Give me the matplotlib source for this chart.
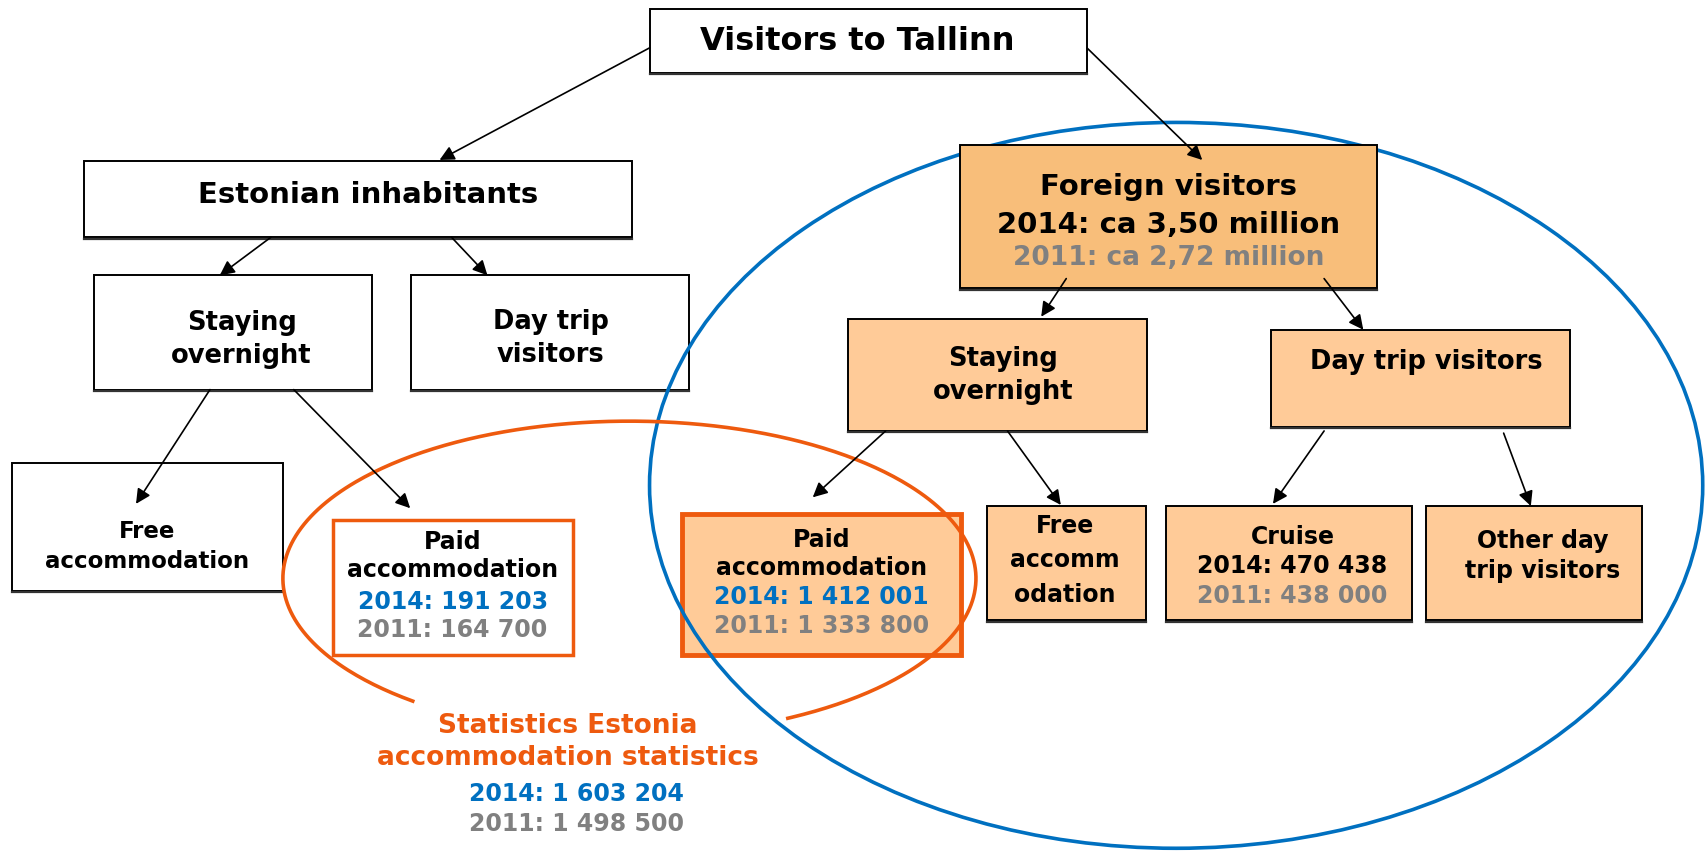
import matplotlib
matplotlib.use("Agg")
import matplotlib.pyplot as plt
from matplotlib.patches import Rectangle, Ellipse
import numpy as np

# ---- data (text content of the diagram) ----
years = ["2014", "2011"]
title = "Visitors to Tallinn"
estonian = "Estonian inhabitants"
foreign = "Foreign visitors"
foreign_total = ["ca 3,50 million", "ca 2,72 million"]
paid_estonian = ["191 203", "164 700"]
paid_foreign = ["1 412 001", "1 333 800"]
cruise = ["470 438", "438 000"]
stats_total = ["1 603 204", "1 498 500"]
stats_label = "Statistics Estonia\naccommodation statistics"

BLUE = "#0070C0"
GRAY = "#808080"
ORANGE = "#EE5A0E"
FILL_DARK = "#F8BE7A"
FILL = "#FFCB98"

plt.rcParams["font.family"] = ["DejaVu Sans"]

fig = plt.figure(figsize=(17.06, 8.51), dpi=100)
ax = fig.add_axes([0, 0, 1, 1])
ax.set_xlim(0, 1568)
ax.set_ylim(782, 0)
ax.axis("off")


def box(x0, y0, x1, y1, fc="white", ec="black", lw=1.4, z=2):
    ax.add_patch(Rectangle((x0, y0), x1 - x0, y1 - y0, facecolor=fc,
                           edgecolor=ec, linewidth=lw, zorder=z))
    # subtle shadow on bottom edge
    if ec == "black":
        ax.plot([x0, x1], [y1 + 1.2, y1 + 1.2], color="#333333", lw=1.6, zorder=z)


def txt(x, y, s, size=17, color="black", z=7, ls=1.2):
    ax.text(x, y, s, ha="center", va="center", fontsize=size, color=color,
            fontweight="bold", zorder=z, linespacing=ls)


def arrow(x0, y0, x1, y1):
    ax.annotate("", xy=(x1, y1), xytext=(x0, y0),
                arrowprops=dict(arrowstyle="-|>", mutation_scale=22, lw=1.2,
                                color="black", shrinkA=0, shrinkB=0), zorder=6)


# ---- boxes ----
box(597, 8, 999, 67)
box(77, 148, 581, 218)
box(86, 253, 342, 358)
box(378, 253, 633, 358)
box(11, 425, 260, 543)
box(306, 478, 527, 602, ec=ORANGE, lw=2.5)
box(882, 133, 1266, 265, fc=FILL_DARK, z=5)
box(779, 293, 1054, 396, fc=FILL)
box(1168, 303, 1443, 392, fc=FILL)
box(627, 472, 883, 602, fc=FILL, ec=ORANGE, lw=3.5)
box(907, 465, 1053, 570, fc=FILL)
box(1072, 465, 1298, 570, fc=FILL)
box(1311, 465, 1509, 570, fc=FILL)

# ---- ellipses ----
ax.add_patch(Ellipse((1081, 446), 968, 667, fill=False, edgecolor=BLUE,
                     linewidth=2.6, zorder=3))
cx, cy, a, b = 578.5, 531.5, 318.5, 144.5
t = np.radians(np.linspace(128.7, 422.8, 400))
ax.plot(cx + a * np.cos(t), cy + b * np.sin(t), color=ORANGE, lw=2.6, zorder=3)

# ---- arrows ----
arrow(597, 44, 404, 147)
arrow(999, 44, 1105, 147)
arrow(249, 218, 202, 253)
arrow(415, 218, 448, 253)
arrow(193, 358, 125, 463)
arrow(270, 358, 377, 467)
arrow(980, 256, 957, 291)
arrow(1217, 256, 1253, 303)
arrow(814, 396, 747, 457)
arrow(926, 396, 975, 464)
arrow(1217, 396, 1170, 463)
arrow(1382, 398, 1407, 465)

# ---- texts ----
txt(788, 38, title, size=23)
txt(338, 179, estonian, size=21)
txt(222, 312, "Staying\novernight", size=18.5, ls=1.35)
txt(506, 311, "Day trip\nvisitors", size=18.5, ls=1.35)
txt(135, 502, "Free\naccommodation", size=16.5, ls=1.4)

# paid estonian
txt(416, 511, "Paid\naccommodation", size=17)
txt(416, 553, f"{years[0]}: {paid_estonian[0]}", size=17, color=BLUE)
txt(416, 579, f"{years[1]}: {paid_estonian[1]}", size=17, color=GRAY)

# foreign
txt(1074, 172, foreign, size=21)
txt(1074, 207, f"{years[0]}: {foreign_total[0]}", size=21)
txt(1074, 237, f"{years[1]}: {foreign_total[1]}", size=19, color=GRAY)

txt(922, 345, "Staying\novernight", size=18.5, ls=1.35)
txt(1311, 333, "Day trip visitors", size=18.5)

# paid foreign
txt(755, 509, "Paid\naccommodation", size=17)
txt(755, 549, f"{years[0]}: {paid_foreign[0]}", size=17, color=BLUE)
txt(755, 575, f"{years[1]}: {paid_foreign[1]}", size=17, color=GRAY)

txt(979, 515, "Free\naccomm\nodation", size=17, ls=1.55)

txt(1188, 493, "Cruise", size=17)
txt(1188, 520, f"{years[0]}: {cruise[0]}", size=17)
txt(1188, 548, f"{years[1]}: {cruise[1]}", size=17, color=GRAY)

txt(1418, 511, "Other day\ntrip visitors", size=17, ls=1.35)

# statistics estonia
txt(522, 682, stats_label, size=19, color=ORANGE, ls=1.3)
txt(530, 730, f"{years[0]}: {stats_total[0]}", size=17, color=BLUE)
txt(530, 757, f"{years[1]}: {stats_total[1]}", size=17, color=GRAY)

fig.savefig("out.png", dpi=100, facecolor="white")
